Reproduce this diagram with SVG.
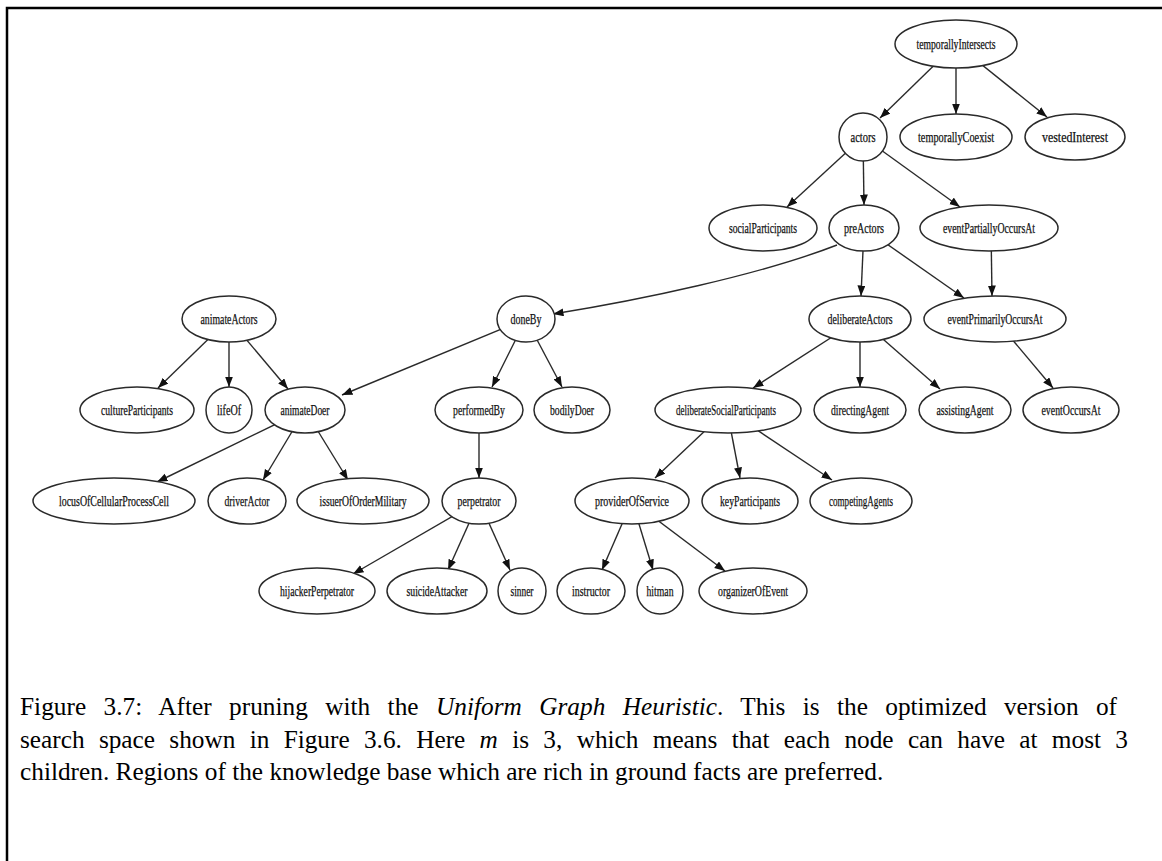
<svg xmlns="http://www.w3.org/2000/svg" width="1162" height="861" viewBox="0 0 1162 861">
  <style>
    .node ellipse { fill: #ffffff; stroke: #2a2a2a; stroke-width: 1.5; }
    .node text { font-family: "Liberation Serif", "Times New Roman", serif; font-size: 14.5px; fill: #111111; stroke: #111111; stroke-width: 0.25; text-anchor: middle; }
    .edges line, .edges path { stroke: #2a2a2a; stroke-width: 1.4; fill: none; marker-end: url(#arrow); }
    .caption { font-family: "Liberation Serif", "Times New Roman", serif; font-size: 25.3px; fill: #000000; }
    .frame { stroke: #000000; stroke-width: 2.5; fill: none; }
  </style>
  <defs>
    <marker id="arrow" markerUnits="userSpaceOnUse" markerWidth="11" markerHeight="9" refX="10.5" refY="4" orient="auto">
      <path d="M0,0 L10.5,4 L0,8 z" fill="#111111"/>
    </marker>
  </defs>
  <rect width="1162" height="861" fill="#ffffff"/>
  <!-- frame: top and left rules only -->
  <path class="frame" d="M7,861 L7,8 L1162,8"/>

  <g class="edges">
    <line x1="956" y1="44" x2="880" y2="118"/>
    <line x1="956" y1="44" x2="956" y2="114"/>
    <line x1="956" y1="44" x2="1047" y2="117"/>
    <line x1="863" y1="137" x2="787" y2="207"/>
    <line x1="863" y1="137" x2="864" y2="205"/>
    <line x1="863" y1="137" x2="960" y2="207"/>
    <path d="M837,245 C760,275 640,300 553,314"/>
    <line x1="864" y1="228" x2="861" y2="296"/>
    <line x1="864" y1="228" x2="964" y2="298"/>
    <line x1="991" y1="228" x2="992" y2="296"/>
    <line x1="995" y1="319" x2="1053" y2="388"/>
    <line x1="860" y1="319" x2="753" y2="388"/>
    <line x1="860" y1="319" x2="860" y2="387"/>
    <line x1="860" y1="319" x2="940" y2="389"/>
    <line x1="229" y1="319" x2="158" y2="388"/>
    <line x1="229" y1="319" x2="229" y2="387"/>
    <line x1="229" y1="319" x2="288" y2="389"/>
    <line x1="526" y1="319" x2="342" y2="395"/>
    <line x1="526" y1="319" x2="492" y2="387"/>
    <line x1="526" y1="319" x2="562" y2="387"/>
    <line x1="305" y1="410" x2="157" y2="482"/>
    <line x1="305" y1="410" x2="263" y2="480"/>
    <line x1="305" y1="410" x2="348" y2="480"/>
    <line x1="479" y1="410" x2="479" y2="478"/>
    <line x1="479" y1="501" x2="353" y2="574"/>
    <line x1="479" y1="501" x2="448" y2="570"/>
    <line x1="479" y1="501" x2="510" y2="570"/>
    <line x1="727" y1="410" x2="655" y2="478"/>
    <line x1="727" y1="410" x2="740" y2="478"/>
    <line x1="727" y1="410" x2="832" y2="480"/>
    <line x1="632" y1="501" x2="602" y2="570"/>
    <line x1="632" y1="501" x2="653" y2="570"/>
    <line x1="632" y1="501" x2="725" y2="571"/>
  </g>

  <g id="n-temporallyIntersects" class="node"><ellipse cx="956" cy="44" rx="61" ry="24"/><text x="956" y="49" textLength="79" lengthAdjust="spacingAndGlyphs">temporallyIntersects</text></g>
  <g id="n-actors" class="node"><ellipse cx="863" cy="137" rx="24" ry="24"/><text x="863" y="142" textLength="25" lengthAdjust="spacingAndGlyphs">actors</text></g>
  <g id="n-temporallyCoexist" class="node"><ellipse cx="956" cy="137" rx="56" ry="23"/><text x="956" y="142" textLength="76" lengthAdjust="spacingAndGlyphs">temporallyCoexist</text></g>
  <g id="n-vestedInterest" class="node"><ellipse cx="1075" cy="137" rx="50" ry="23"/><text x="1075" y="142" textLength="66" lengthAdjust="spacingAndGlyphs">vestedInterest</text></g>

  <g id="n-socialParticipants" class="node"><ellipse cx="763" cy="228" rx="54" ry="23"/><text x="763" y="233" textLength="68" lengthAdjust="spacingAndGlyphs">socialParticipants</text></g>
  <g id="n-preActors" class="node"><ellipse cx="864" cy="228" rx="35" ry="23"/><text x="864" y="233" textLength="40" lengthAdjust="spacingAndGlyphs">preActors</text></g>
  <g id="n-eventPartiallyOccursAt" class="node"><ellipse cx="989" cy="228" rx="69" ry="23"/><text x="989" y="233" textLength="92" lengthAdjust="spacingAndGlyphs">eventPartiallyOccursAt</text></g>

  <g id="n-animateActors" class="node"><ellipse cx="229" cy="319" rx="47" ry="23"/><text x="229" y="324" textLength="57" lengthAdjust="spacingAndGlyphs">animateActors</text></g>
  <g id="n-doneBy" class="node"><ellipse cx="526" cy="319" rx="29" ry="23"/><text x="526" y="324" textLength="31" lengthAdjust="spacingAndGlyphs">doneBy</text></g>
  <g id="n-deliberateActors" class="node"><ellipse cx="860" cy="319" rx="51" ry="23"/><text x="860" y="324" textLength="65" lengthAdjust="spacingAndGlyphs">deliberateActors</text></g>
  <g id="n-eventPrimarilyOccursAt" class="node"><ellipse cx="995" cy="319" rx="71" ry="23"/><text x="995" y="324" textLength="95" lengthAdjust="spacingAndGlyphs">eventPrimarilyOccursAt</text></g>

  <g id="n-cultureParticipants" class="node"><ellipse cx="137" cy="410" rx="57" ry="23"/><text x="137" y="415" textLength="72" lengthAdjust="spacingAndGlyphs">cultureParticipants</text></g>
  <g id="n-lifeOf" class="node"><ellipse cx="229" cy="410" rx="23" ry="23"/><text x="229" y="415" textLength="24" lengthAdjust="spacingAndGlyphs">lifeOf</text></g>
  <g id="n-animateDoer" class="node"><ellipse cx="305" cy="410" rx="40" ry="23"/><text x="305" y="415" textLength="49" lengthAdjust="spacingAndGlyphs">animateDoer</text></g>
  <g id="n-performedBy" class="node"><ellipse cx="479" cy="410" rx="44" ry="23"/><text x="479" y="415" textLength="52" lengthAdjust="spacingAndGlyphs">performedBy</text></g>
  <g id="n-bodilyDoer" class="node"><ellipse cx="572" cy="410" rx="38" ry="23"/><text x="572" y="415" textLength="44" lengthAdjust="spacingAndGlyphs">bodilyDoer</text></g>
  <g id="n-deliberateSocialParticipants" class="node"><ellipse cx="728" cy="410" rx="73" ry="23"/><text x="726" y="415" textLength="100" lengthAdjust="spacingAndGlyphs">deliberateSocialParticipants</text></g>
  <g id="n-directingAgent" class="node"><ellipse cx="860" cy="410" rx="46" ry="23"/><text x="860" y="415" textLength="58" lengthAdjust="spacingAndGlyphs">directingAgent</text></g>
  <g id="n-assistingAgent" class="node"><ellipse cx="965" cy="410" rx="46" ry="23"/><text x="965" y="415" textLength="57" lengthAdjust="spacingAndGlyphs">assistingAgent</text></g>
  <g id="n-eventOccursAt" class="node"><ellipse cx="1071" cy="410" rx="48" ry="23"/><text x="1071" y="415" textLength="59" lengthAdjust="spacingAndGlyphs">eventOccursAt</text></g>

  <g id="n-locusOfCellularProcessCell" class="node"><ellipse cx="114" cy="501" rx="81" ry="23"/><text x="114" y="506" textLength="110" lengthAdjust="spacingAndGlyphs">locusOfCellularProcessCell</text></g>
  <g id="n-driverActor" class="node"><ellipse cx="247" cy="501" rx="39" ry="23"/><text x="247" y="506" textLength="45" lengthAdjust="spacingAndGlyphs">driverActor</text></g>
  <g id="n-issuerOfOrderMilitary" class="node"><ellipse cx="363" cy="501" rx="66" ry="23"/><text x="363" y="506" textLength="87" lengthAdjust="spacingAndGlyphs">issuerOfOrderMilitary</text></g>
  <g id="n-perpetrator" class="node"><ellipse cx="479" cy="501" rx="37" ry="23"/><text x="479" y="506" textLength="43" lengthAdjust="spacingAndGlyphs">perpetrator</text></g>
  <g id="n-providerOfService" class="node"><ellipse cx="632" cy="501" rx="57" ry="23"/><text x="632" y="506" textLength="74" lengthAdjust="spacingAndGlyphs">providerOfService</text></g>
  <g id="n-keyParticipants" class="node"><ellipse cx="750" cy="501" rx="48" ry="23"/><text x="750" y="506" textLength="60" lengthAdjust="spacingAndGlyphs">keyParticipants</text></g>
  <g id="n-competingAgents" class="node"><ellipse cx="861" cy="501" rx="51" ry="23"/><text x="861" y="506" textLength="64" lengthAdjust="spacingAndGlyphs">competingAgents</text></g>

  <g id="n-hijackerPerpetrator" class="node"><ellipse cx="317" cy="591" rx="58" ry="23"/><text x="317" y="596" textLength="74" lengthAdjust="spacingAndGlyphs">hijackerPerpetrator</text></g>
  <g id="n-suicideAttacker" class="node"><ellipse cx="437" cy="591" rx="50" ry="23"/><text x="437" y="596" textLength="61" lengthAdjust="spacingAndGlyphs">suicideAttacker</text></g>
  <g id="n-sinner" class="node"><ellipse cx="522" cy="591" rx="24" ry="23"/><text x="522" y="596" textLength="23" lengthAdjust="spacingAndGlyphs">sinner</text></g>
  <g id="n-instructor" class="node"><ellipse cx="591" cy="591" rx="34" ry="23"/><text x="591" y="596" textLength="38" lengthAdjust="spacingAndGlyphs">instructor</text></g>
  <g id="n-hitman" class="node"><ellipse cx="660" cy="591" rx="23" ry="23"/><text x="660" y="596" textLength="27" lengthAdjust="spacingAndGlyphs">hitman</text></g>
  <g id="n-organizerOfEvent" class="node"><ellipse cx="753" cy="591" rx="54" ry="23"/><text x="753" y="596" textLength="70" lengthAdjust="spacingAndGlyphs">organizerOfEvent</text></g>

  <!-- caption: first two lines justified to the full measure -->
  <g id="caption">
    <text class="caption" x="20" y="715" word-spacing="11" textLength="1097" lengthAdjust="spacing">Figure 3.7: After pruning with the <tspan font-style="italic">Uniform Graph Heuristic</tspan>. This is the optimized version of</text>
    <text class="caption" x="20" y="748" word-spacing="8" textLength="1108" lengthAdjust="spacing">search space shown in Figure 3.6. Here <tspan font-style="italic">m</tspan> is 3, which means that each node can have at most 3</text>
    <text class="caption" x="20" y="780">children. Regions of the knowledge base which are rich in ground facts are preferred.</text>
  </g>
</svg>
